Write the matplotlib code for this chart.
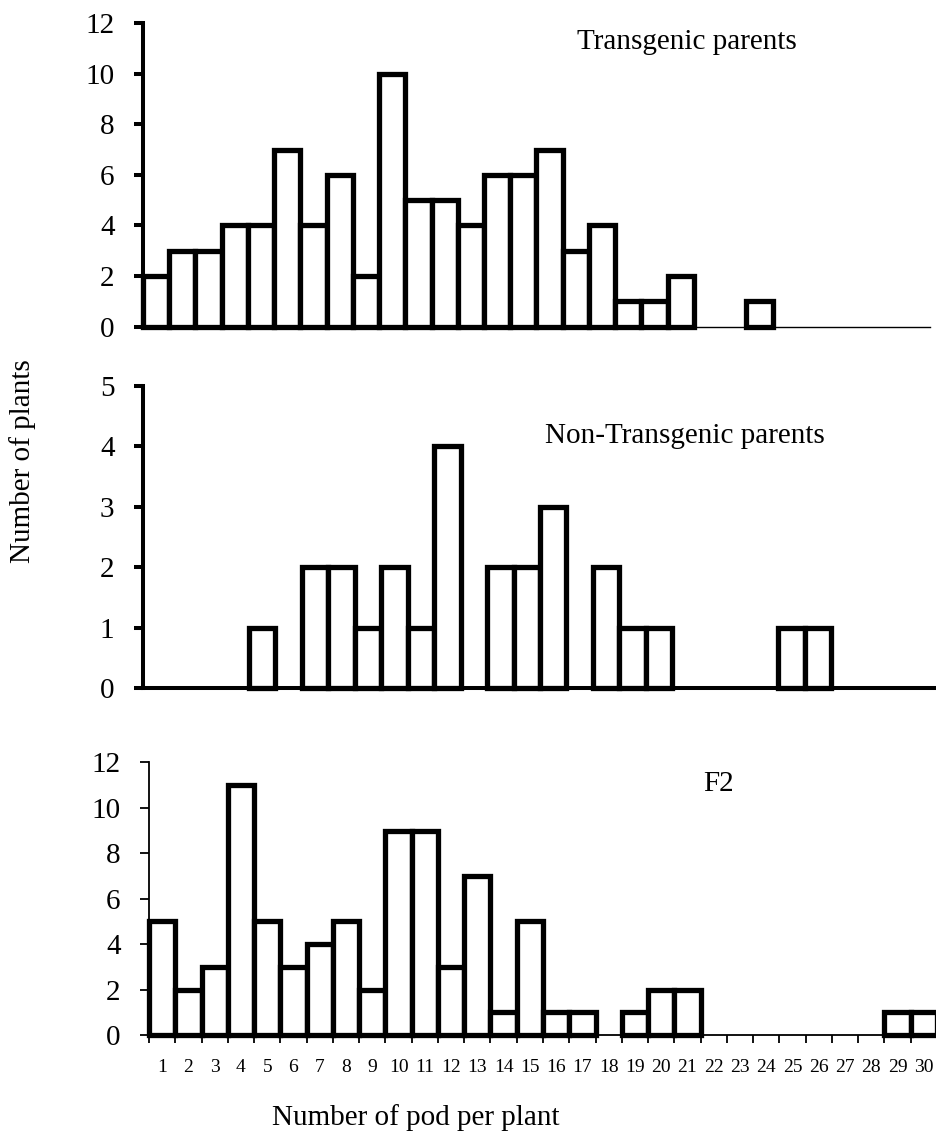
import numpy as np
import matplotlib
matplotlib.use("Agg")
import matplotlib.pyplot as plt

plt.rcParams['font.family'] = ['Liberation Serif', 'DejaVu Serif']

# pods per plant classes
pods = list(range(1, 31))

# number of plants in each class
transgenic = [2, 3, 3, 4, 4, 7, 4, 6, 2, 10, 5, 5, 4, 6, 6, 7, 3, 4, 1, 1,
              2, 0, 0, 1, 0, 0, 0, 0, 0, 0]
non_transgenic = [0, 0, 0, 0, 1, 0, 2, 2, 1, 2, 1, 4, 0, 2, 2, 3, 0, 2, 1, 1,
                  0, 0, 0, 0, 1, 1, 0, 0, 0, 0]
f2 = [5, 2, 3, 11, 5, 3, 4, 5, 2, 9, 9, 3, 7, 1, 5, 1, 1, 0, 1, 2,
      2, 0, 0, 0, 0, 0, 0, 0, 1, 1]

titles = ["Transgenic parents", "Non-Transgenic parents", "F2"]

W, H = 937, 1133
fig = plt.figure(figsize=(W / 100, H / 100), dpi=100)


def frac(x0, x1, ytop, ybot):
    return [x0 / W, 1 - ybot / H, (x1 - x0) / W, (ybot - ytop) / H]


ax1 = fig.add_axes(frac(143, 930, 23, 326.7))
ax2 = fig.add_axes(frac(143, 937, 386, 688))
ax3 = fig.add_axes(frac(149, 937, 762.4, 1035))


def draw(ax, vals, ymax, step, spine_lw, axis_lw, title, tx, ty):
    x = np.array(pods)
    v = np.array(vals)
    m = v > 0
    ax.bar(x[m], v[m], width=1.0, color='white', edgecolor='black',
           linewidth=3.8, zorder=3, clip_on=False)
    ax.set_xlim(0.5, 30.5)
    ax.set_ylim(0, ymax)
    ax.set_yticks(np.arange(0, ymax + 1, step))
    for s in ['top', 'right']:
        ax.spines[s].set_visible(False)
    ax.spines['left'].set_linewidth(spine_lw)
    ax.spines['bottom'].set_linewidth(axis_lw)
    ax.tick_params(axis='y', direction='out', length=6.5, width=spine_lw,
                   labelsize=21, pad=14)
    ax.text(tx, ty, title, transform=ax.transAxes, ha='center', va='center',
            fontsize=21)


draw(ax1, transgenic, 12, 2, 2.9, 1.0, titles[0], 0.691, 0.937)
ax1.set_xticks([])

draw(ax2, non_transgenic, 5, 1, 2.9, 2.9, titles[1], 0.683, 0.834)
ax2.set_xticks([])

draw(ax3, f2, 12, 2, 1.3, 1.3, titles[2], 0.723, 0.921)
ax3.set_xticks(pods)
ax3.set_xticklabels([str(p) for p in pods])
ax3.set_xticks(np.arange(0.5, 31, 1), minor=True)
ax3.tick_params(axis='x', which='major', length=0, labelsize=14, pad=17)
ax3.tick_params(axis='x', which='minor', direction='out', length=6, width=1.3)

fig.text(23 / W, 1 - 461 / H, "Number of plants", rotation=90,
         ha='center', va='center', fontsize=21)
fig.text(416 / W, 1 - 1125 / H, "Number of pod per plant",
         ha='center', va='baseline', fontsize=21)

fig.savefig("out.png", dpi=100)
